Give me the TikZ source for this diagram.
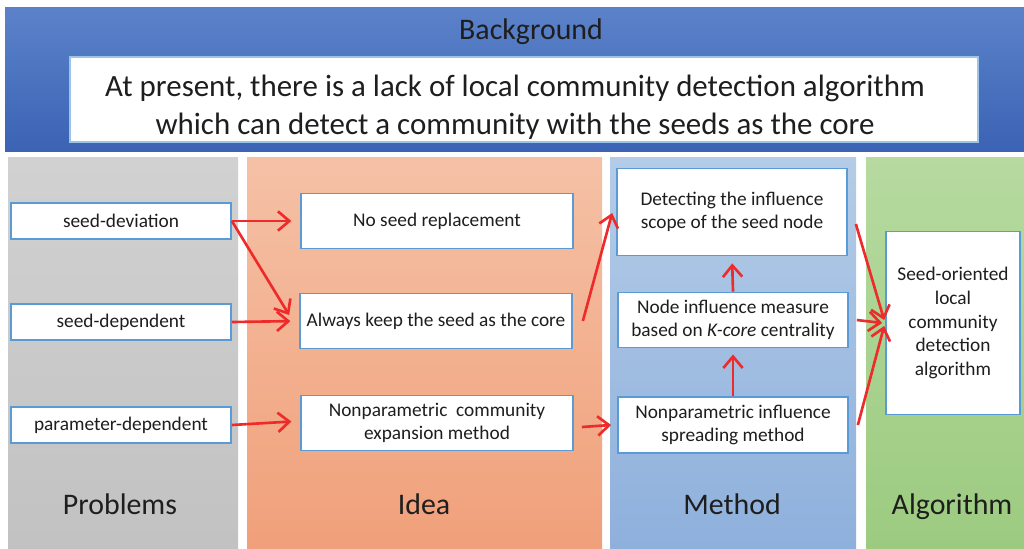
\documentclass[tikz,border=0pt]{standalone}
\usepackage{fontspec}
\setmainfont{Carlito}
\usetikzlibrary{arrows.meta}

\definecolor{bannertop}{HTML}{5B82C9}
\definecolor{bannerbot}{HTML}{3C63B4}
\definecolor{boxblue}{HTML}{5B9BD5}
\definecolor{linkred}{HTML}{EE2A2A}
\definecolor{ink}{HTML}{1E1E1E}

\tikzset{
  box/.style={draw=boxblue, line width=1pt, fill=white, align=center,
    text=ink, inner sep=0pt, font=\fontsize{11}{12.8}\selectfont},
  link/.style={linkred, line width=1.5pt,
    -{Straight Barb[length=6.5pt,width=11pt,line width=1.5pt]}},
  heading/.style={text=ink, anchor=base, font=\fontsize{17}{20}\selectfont}
}

\begin{document}
\begin{tikzpicture}[x=0.02cm,y=-0.02cm]
  \useasboundingbox (0,0) rectangle (1024,548);
  \fill[white] (0,0) rectangle (1024,548);

  % banner
  \fill[top color=bannertop, bottom color=bannerbot] (5,7) rectangle (1024,151);
  \node[heading] (bg) at (531,39) {Background};
  \filldraw[draw=boxblue!60, line width=0.8pt, fill=white] (70,57) rectangle (978,142);
  \node[align=center, text=ink, font=\fontsize{17.6}{21.5}\selectfont] (lack) at (515,107)
    {At present, there is a lack of local community detection algorithm\\
     which can detect a community with the seeds as the core};

  % columns
  \fill[top color=black!18, bottom color=black!24] (8,157) rectangle (238,548);
  \fill[top color={rgb,255:red,245;green,193;blue,166},
        bottom color={rgb,255:red,240;green,160;blue,122}] (247,157) rectangle (602,548);
  \fill[top color={rgb,255:red,180;green,204;blue,231},
        bottom color={rgb,255:red,142;green,176;blue,220}] (610,157) rectangle (856,548);
  \fill[top color={rgb,255:red,182;green,218;blue,160},
        bottom color={rgb,255:red,156;green,203;blue,128}] (866,157) rectangle (1024,548);

  \node[heading] (pr) at (120,514) {Problems};
  \node[heading] (id) at (424,514) {Idea};
  \node[heading] (me) at (732,514) {Method};
  \node[heading] (alg) at (952,514) {Algorithm};

  % problems
  \node[box, minimum width=4.4cm, minimum height=0.72cm] (sd) at (121,221) {seed-deviation};
  \node[box, minimum width=4.4cm, minimum height=0.72cm] (sp) at (121,322) {seed-dependent};
  \node[box, minimum width=4.4cm, minimum height=0.72cm] (pd) at (121,425) {parameter-dependent};

  % ideas
  \node[box, minimum width=5.44cm, minimum height=1.1cm] (nr) at (437,221) {No seed replacement};
  \node[box, minimum width=5.44cm, minimum height=1.1cm] (ak) at (436,321) {Always keep the seed as the core};
  \node[box, minimum width=5.44cm, minimum height=1.1cm] (nc) at (437,423)
    {Nonparametric\ \ community\\expansion method};

  % methods
  \node[box, minimum width=4.6cm, minimum height=1.74cm] (dt) at (732,212)
    {Detecting the influence\\scope of the seed node};
  \node[box, minimum width=4.6cm, minimum height=1.1cm] (ni) at (733,320)
    {Node influence measure\\based on \textit{K-core} centrality};
  \node[box, minimum width=4.6cm, minimum height=1.12cm] (is) at (733,425)
    {Nonparametric influence\\spreading method};

  % algorithm
  \node[box, minimum width=2.68cm, minimum height=3.66cm,
    font=\fontsize{11}{13.6}\selectfont] (so) at (953,323)
    {Seed-oriented\\local\\community\\detection\\algorithm};

  % links
  \draw[link, shorten >=5pt] (sd.east) -- (nr.west);
  \draw[link] (sd.east) -- ([shift={(-10,-6)}]ak.west);
  \draw[link, shorten >=5pt] (sp.east) -- (ak.west);
  \draw[link, shorten >=5pt] (pd.east) -- ([shift={(0,-2)}]nc.west);
  \draw[link] ([shift={(10,0)}]ak.east) -- ([shift={(-4,1)}]dt.west);
  \draw[link] ([shift={(8,4)}]nc.east) -- ([shift={(-6,0)}]is.west);
  \draw[link, shorten >=3.5pt] (is.north) -- (ni.south);
  \draw[link, shorten >=4pt] (ni.north) -- (dt.south);
  \draw[link] ([shift={(8,12)}]dt.east) -- ([shift={(-1,-3)}]so.west);
  \draw[link] ([shift={(8,0)}]ni.east) -- ([shift={(-3,0)}]so.west);
  \draw[link] ([shift={(9,0)}]is.east) -- ([shift={(-1,3)}]so.west);
\end{tikzpicture}
\end{document}
